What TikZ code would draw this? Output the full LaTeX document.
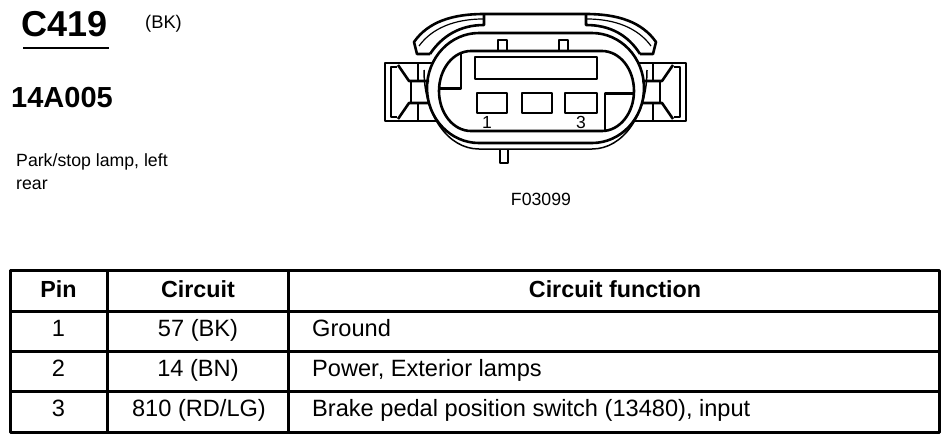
\documentclass[tikz,border=0pt]{standalone}
\usepackage{fontspec}
\setmainfont{Liberation Sans}
\newcommand\latchclip{%
  \draw[conn] (433,63) -- (385,63) -- (385,121) -- (437,121);
  \draw[thinl] (397,67) -- (391,67) -- (391,117) -- (397,117);
  \draw[conn] (398,65) -- (409,81) -- (429,81);
  \draw[conn] (398,119) -- (409,103) -- (429,103);
  \draw[conn] (411,81) -- (411,103);
  \draw[conn] (418,63) -- (418,81);
  \draw[conn] (418,103) -- (418,121);
}
\begin{document}
\begin{tikzpicture}[x=1pt,y=-1pt,
  line join=round,
  conn/.style={line width=2.6pt},
  thinl/.style={line width=1.2pt},
  grid/.style={line width=3pt},
  lbl/.style={inner sep=0pt, anchor=base west},
  cen/.style={inner sep=0pt, anchor=base},
  tf/.style={font=\fontsize{23.6}{28}\selectfont},
  tfb/.style={font=\fontsize{23.3}{28}\selectfont\bfseries},
  small/.style={font=\fontsize{17.7}{21}\selectfont},
]
\useasboundingbox (0,0) rectangle (950,442);

% ---- left labels
\node[lbl, font=\fontsize{36}{40}\selectfont\bfseries] (title) at (21,36.5) {C419};
\draw[line width=2pt] (23,47.5) -- (109,47.5);
\node[lbl, font=\fontsize{18.3}{20}\selectfont] (color) at (145,28.5) {(BK)};
\node[lbl, font=\fontsize{29}{32}\selectfont\bfseries] (part) at (11,107.5) {14A005};
\node[lbl, small] (desc1) at (16,166) {Park/stop lamp, left};
\node[lbl, small] (desc2) at (16,189) {rear};
\node[cen, small] (fig) at (541,205) {F03099};

% ---- connector body
\draw[line width=1.5pt] (424,70) .. controls (424,115) and (448,149) .. (479,149) -- (592,149) .. controls (623,149) and (647,115) .. (647,70);
\draw[conn] (479,33) -- (592,33) .. controls (620.7,33) and (644,57.6) .. (644,88) .. controls (644,118.4) and (620.7,143) .. (592,143) -- (479,143) .. controls (450.3,143) and (427,118.4) .. (427,88) .. controls (427,57.6) and (450.3,33) .. (479,33) -- cycle;
\draw[line width=2pt] (500,149.5) -- (500,163) -- (508,163) -- (508,149.5);

% hood
\fill[white] (417,54) -- (414,42) .. controls (428,22) and (452,14) .. (484,14) -- (586,14) .. controls (618,14) and (642,22) .. (656,42) -- (653,54) -- (640,54) .. controls (628,35) and (610,25) .. (586,25) -- (484,25) .. controls (460,25) and (442,36) .. (430,54) -- cycle;
\draw[conn] (430,54) -- (417,54) -- (414,42) .. controls (428,22) and (452,14) .. (484,14) -- (586,14) .. controls (618,14) and (642,22) .. (656,42) -- (653,54) -- (640,54);
\draw[conn] (430,54) .. controls (442,36) and (460,25) .. (484,25) -- (484,14);
\draw[conn] (640,54) .. controls (628,35) and (610,25) .. (586,25) -- (586,14);
\draw[thinl] (419,46) .. controls (432,28) and (455,19) .. (483,19);
\draw[thinl] (651,46) .. controls (638,28) and (615,19) .. (587,19);

% top tabs
\draw[conn] (498,51) -- (498,40) -- (507,40) -- (507,51);
\draw[conn] (559,51) -- (559,40) -- (568,40) -- (568,51);

% inner contour and partitions
\begin{scope}
  \clip (471,51) -- (602,51) .. controls (619.7,51) and (634,68.9) .. (634,91) .. controls (634,113.1) and (619.7,131) .. (602,131) -- (471,131) .. controls (453.3,131) and (439,113.1) .. (439,91) .. controls (439,68.9) and (453.3,51) .. (471,51) -- cycle;
  \draw[conn] (461,40) -- (461,88.5) -- (430,88.5);
  \draw[conn] (605,140) -- (605,93.5) -- (645,93.5);
\end{scope}
\draw[conn] (471,51) -- (602,51) .. controls (619.7,51) and (634,68.9) .. (634,91) .. controls (634,113.1) and (619.7,131) .. (602,131) -- (471,131) .. controls (453.3,131) and (439,113.1) .. (439,91) .. controls (439,68.9) and (453.3,51) .. (471,51) -- cycle;

% cavities
\draw[conn] (475,57) rectangle (597,79);
\draw[conn] (477,93) rectangle (507,113);
\draw[conn] (522,93) rectangle (552,113);
\draw[conn] (565,93) rectangle (597,113);
\node[cen, font=\fontsize{17.5}{20}\selectfont] (p1) at (487,128) {1};
\node[cen, font=\fontsize{17.5}{20}\selectfont] (p3) at (581,128) {3};

% side latches
\latchclip
\begin{scope}[xshift=1071pt, xscale=-1]
  \latchclip
\end{scope}

% ---- table
\draw[grid] (10,270) rectangle (939,432);
\draw[grid] (10,311.5) -- (939,311.5);
\draw[grid] (10,351.5) -- (939,351.5);
\draw[grid] (10,391.5) -- (939,391.5);
\draw[grid] (107,270) -- (107,432);
\draw[grid] (288,270) -- (288,432);

\node[cen, tfb] (hpin) at (58.5,297) {Pin};
\node[cen, tfb] (hcirc) at (198,297) {Circuit};
\node[cen, tfb] (hfunc) at (615,297) {Circuit function};

\node[cen, tf] (pin1) at (58.5,336.5) {1};
\node[cen, tf] (circ1) at (198,336.5) {57 (BK)};
\node[lbl, tf] (func1) at (312,336.5) {Ground};

\node[cen, tf] (pin2) at (58.5,376.5) {2};
\node[cen, tf] (circ2) at (198,376.5) {14 (BN)};
\node[lbl, tf] (func2) at (312,376.5) {Power, Exterior lamps};

\node[cen, tf] (pin3) at (58.5,416) {3};
\node[cen, tf] (circ3) at (199,416) {810 (RD/LG)};
\node[lbl, tf] (func3) at (312,416) {Brake pedal position switch (13480), input};
\end{tikzpicture}
\end{document}
